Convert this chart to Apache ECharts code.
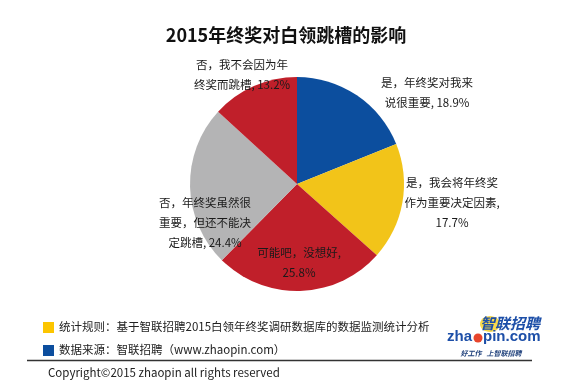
<!DOCTYPE html>
<html><head><meta charset="utf-8">
<script src="https://cdn.jsdelivr.net/npm/echarts@6/dist/echarts.min.js"></script>
<style>html,body{margin:0;padding:0;background:#fff}#c{width:580px;height:390px}</style>
</head><body><div id="c"></div>
<script>
var titleText = '2015年终奖对白领跳槽的影响';
var categories = ['是，年终奖对我来说很重要', '是，我会将年终奖作为重要决定因素', '可能吧，没想好', '否，年终奖虽然很重要，但还不能决定跳槽', '否，我不会因为年终奖而跳槽'];
var values = [18.9, 17.7, 25.8, 24.4, 13.2];
var colors = ['#0c4e9e', '#f2c419', '#c01f2a', '#b4b4b5', '#c01f2a'];
var noteRule = '统计规则：基于智联招聘2015白领年终奖调研数据库的数据监测统计分析';
var noteSource = '数据来源：智联招聘（www.zhaopin.com）';
var copyright = 'Copyright©2015 zhaopin all rights reserved';

var FONT = '"Noto Sans CJK SC", "Microsoft YaHei", sans-serif';
var labelPos = [[427, 93], [452, 203], [299, 263], [205, 223], [242, 75]];

function fmt(p) {
  var n = p.name, chunks = [];
  for (var i = 0; i < n.length; i += 8) chunks.push(n.slice(i, i + 8));
  var last = chunks[chunks.length - 1];
  return chunks.join('\n') + ',' + (last.length >= 7 ? '\n' : ' ') + p.value + '%';
}

var chart = echarts.init(document.getElementById('c'), null, {renderer: 'canvas'});
chart.setOption({
  animation: false,
  backgroundColor: '#fff',
  title: {
    text: titleText, left: 281, textAlign: 'center', top: 21,
    textStyle: {fontFamily: FONT, fontSize: 18, fontWeight: 'bold', color: '#111'}
  },
  series: [{
    type: 'pie',
    center: [297, 184],
    radius: 107,
    startAngle: 90,
    clockwise: true,
    data: categories.map(function (c, i) { return {name: c, value: values[i], itemStyle: {color: colors[i]}}; }),
    label: {
      show: true, formatter: fmt, fontFamily: FONT, fontSize: 11.5, color: '#1a1a1a',
      lineHeight: 20, align: 'center'
    },
    labelLine: {show: false},
    labelLayout: function (params) {
      var p = labelPos[params.dataIndex];
      return {x: p[0], y: p[1], align: 'center', verticalAlign: 'middle'};
    },
    emphasis: {disabled: true}
  }],
  graphic: [
    {type: 'rect', shape: {x: 43, y: 322, width: 11, height: 11}, style: {fill: '#fcc500'}},
    {type: 'text', x: 59, y: 327, style: {text: noteRule, font: '11.5px ' + FONT, fill: '#222', verticalAlign: 'middle'}},
    {type: 'rect', shape: {x: 43, y: 345, width: 11, height: 11}, style: {fill: '#0c4e9e'}},
    {type: 'text', x: 59, y: 350, style: {text: noteSource, font: '11.5px ' + FONT, fill: '#222', verticalAlign: 'middle'}},
    {type: 'line', shape: {x1: 27, y1: 360.5, x2: 532, y2: 360.5}, style: {stroke: '#333', lineWidth: 1.5}},
    {type: 'text', x: 48, y: 373, style: {text: copyright, font: '11.5px ' + FONT, fill: '#222', verticalAlign: 'middle'}},
    {type: 'ellipse', shape: {cx: 490, cy: 324, rx: 10, ry: 8}, style: {fill: '#f5d020', opacity: 0.8}},
    {type: 'text', x: 510, y: 323, style: {text: '智联招聘', font: 'italic bold 15px ' + FONT, fill: '#1d4fa8', align: 'center', verticalAlign: 'middle'}},
    {type: 'text', x: 472, y: 337, style: {text: 'zha', font: 'bold 15px "Liberation Sans", sans-serif', fill: '#1d4fa8', align: 'right', verticalAlign: 'middle'}},
    {type: 'circle', shape: {cx: 478, cy: 338, r: 4.5}, style: {fill: '#e8452c'}},
    {type: 'text', x: 483, y: 337, style: {text: 'pin.com', font: 'bold 15px "Liberation Sans", sans-serif', fill: '#1d4fa8', align: 'left', verticalAlign: 'middle'}},
    {type: 'text', x: 491, y: 353, style: {text: '好工作   上智联招聘', font: 'italic bold 7px ' + FONT, fill: '#1d3f7a', align: 'center', verticalAlign: 'middle'}}
  ]
});
</script></body></html>
